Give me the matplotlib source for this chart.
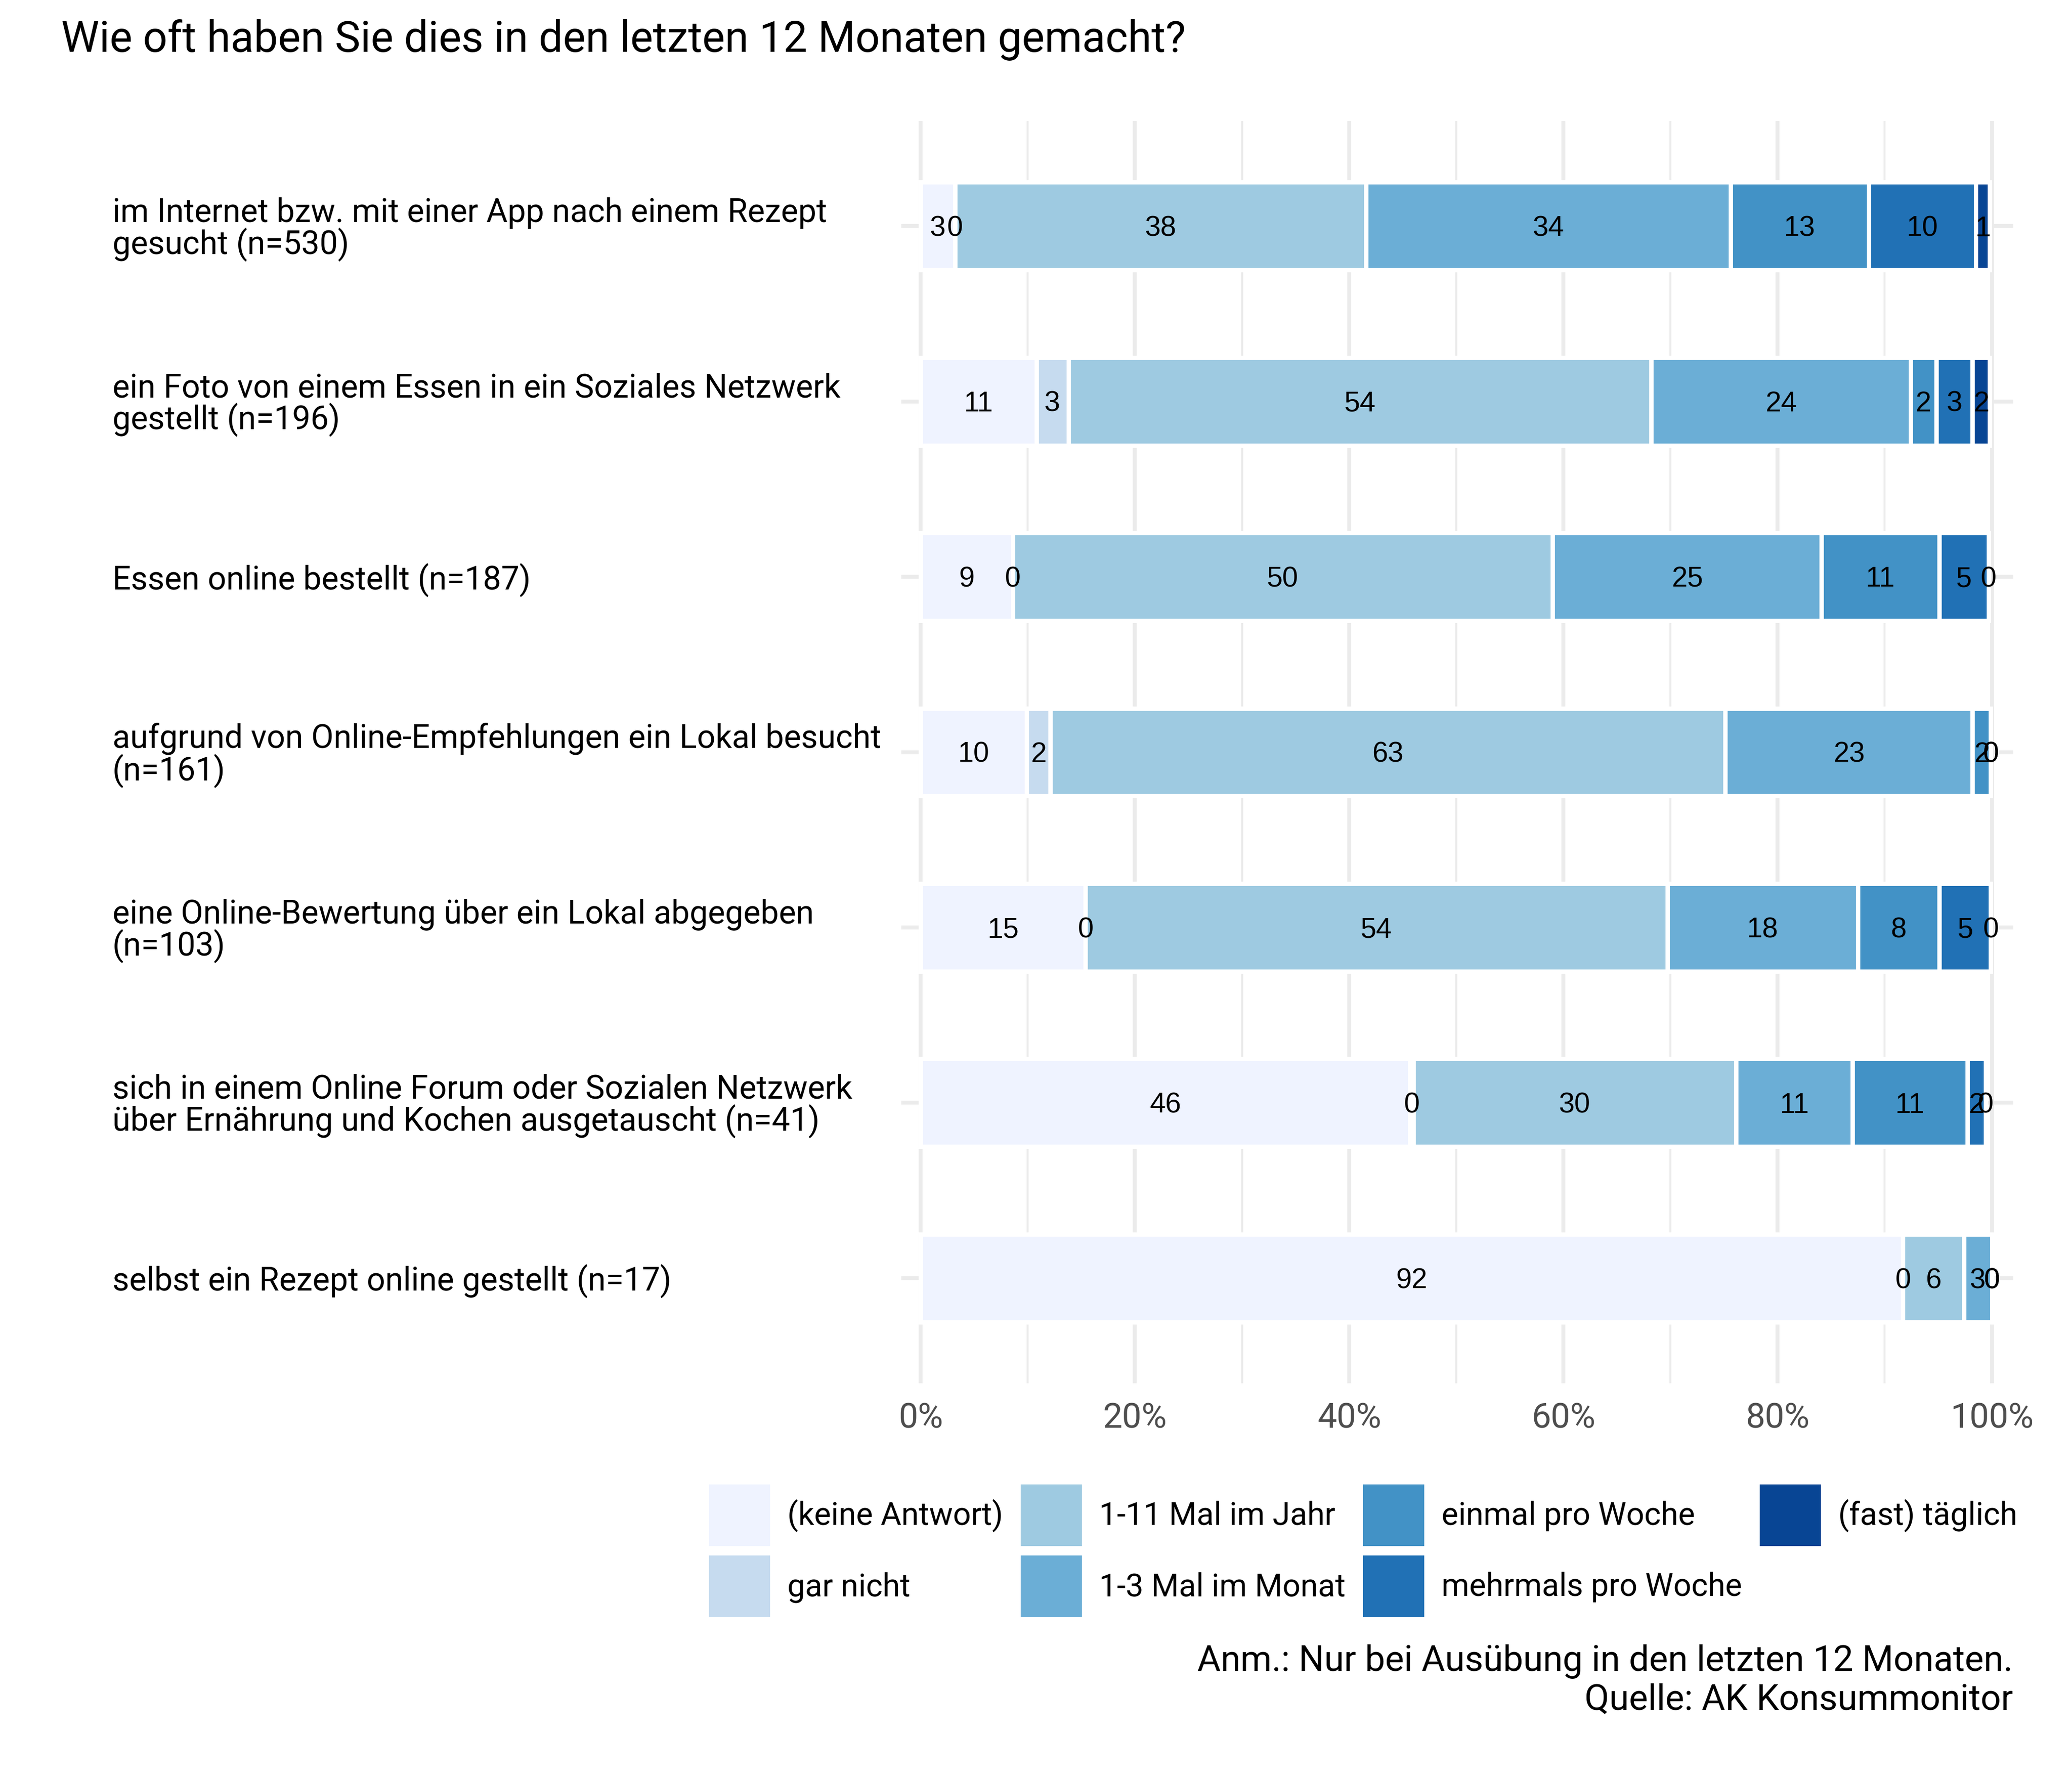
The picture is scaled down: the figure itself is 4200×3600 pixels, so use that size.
import matplotlib
matplotlib.use("Agg")
import matplotlib.pyplot as plt
from matplotlib.patches import Patch
from matplotlib.transforms import blended_transform_factory

# ---------------- data ----------------
items = [
    "im Internet bzw. mit einer App nach einem Rezept\ngesucht (n=530)",
    "ein Foto von einem Essen in ein Soziales Netzwerk\ngestellt (n=196)",
    "Essen online bestellt (n=187)",
    "aufgrund von Online-Empfehlungen ein Lokal besucht\n(n=161)",
    "eine Online-Bewertung über ein Lokal abgegeben\n(n=103)",
    "sich in einem Online Forum oder Sozialen Netzwerk\nüber Ernährung und Kochen ausgetauscht (n=41)",
    "selbst ein Rezept online gestellt (n=17)",
]
categories = ["(keine Antwort)", "gar nicht", "1-11 Mal im Jahr", "1-3 Mal im Monat",
              "einmal pro Woche", "mehrmals pro Woche", "(fast) täglich"]
keine_antwort = [3.2, 10.8, 8.6, 9.9, 15.4, 45.7, 91.7]
gar_nicht     = [0.0, 3.0, 0.0, 2.2, 0.0, 0.3, 0.0]
mal_jahr      = [38.4, 54.4, 50.4, 63.0, 54.3, 30.1, 5.7]
mal_monat     = [34.0, 24.2, 25.1, 23.1, 17.8, 10.9, 2.6]
einmal_woche  = [12.9, 2.4, 11.0, 1.7, 7.6, 10.7, 0.0]
mehrmals_woche= [10.0, 3.4, 4.6, 0.0, 4.8, 1.7, 0.0]
taeglich      = [1.3, 1.6, 0.0, 0.0, 0.0, 0.0, 0.0]
series = [keine_antwort, gar_nicht, mal_jahr, mal_monat, einmal_woche, mehrmals_woche, taeglich]
colors = ["#EFF3FF", "#C6DBEF", "#9ECAE1", "#6BAED6", "#4292C6", "#2171B5", "#084594"]
xticks = [0, 20, 40, 60, 80, 100]
xticklabels = ["0%", "20%", "40%", "60%", "80%", "100%"]

title = "Wie oft haben Sie dies in den letzten 12 Monaten gemacht?"
caption1 = "Anm.: Nur bei Ausübung in den letzten 12 Monaten."
caption2 = "Quelle: AK Konsummonitor"

# ---------------- figure ----------------
W, H = 4200, 3600
fig = plt.figure(figsize=(14, 12), dpi=300)
ax = fig.add_axes([1827 / W, 1 - 2804 / H, (4081 - 1827) / W, (2804 - 245) / H])

roboto = ["Roboto", "DejaVu Sans"]
ypos = list(range(len(items)))
grid_c = "#EBEBEB"
for x in range(0, 101, 20):
    ax.axvline(x, color=grid_c, lw=1.9, zorder=0)
for x in range(10, 100, 20):
    ax.axvline(x, color=grid_c, lw=0.95, zorder=0)
for y in ypos:
    ax.axhline(y, color=grid_c, lw=1.9, zorder=0)

lefts = [0.0] * len(items)
label_font = ["Liberation Sans", "DejaVu Sans"]
for vals, col, cat in zip(series, colors, categories):
    ax.barh(ypos, vals, left=lefts, height=0.5, color=col, edgecolor="white",
            linewidth=2.1, zorder=2, label=cat)
    for y, l, v in zip(ypos, lefts, vals):
        ax.text(l + v / 2, y + 0.057, f"{v:.0f}", ha="center", va="baseline",
                fontsize=13.8, family=label_font, color="black", zorder=3)
    lefts = [l + v for l, v in zip(lefts, vals)]

ax.set_xlim(-1.8, 102.0)
ax.set_ylim(len(items) - 1 + 0.6, -0.6)
ax.set_xticks(xticks)
ax.set_xticklabels(xticklabels, family=roboto, fontsize=16.8, color="#4D4D4D")
ax.tick_params(axis="x", length=0, pad=9)
ax.set_yticks([])
for s in ax.spines.values():
    s.set_visible(False)

trans = blended_transform_factory(fig.transFigure, ax.transData)
for y, lab in zip(ypos, items):
    ax.text(228 / W, y + 0.02, lab, transform=trans, ha="left", va="center",
            fontsize=15.8, family=roboto, color="black", linespacing=0.97)

fig.text(124 / W, 1 - 105 / H, title, ha="left", va="baseline", fontsize=20.85,
         family=roboto, color="black")

handles = [Patch(facecolor=c, edgecolor="none") for c in colors]
fig.legend(handles, categories, ncol=4, loc="upper left",
           bbox_to_anchor=(1437 / W, 1 - 3009 / H), frameon=False,
           prop={"family": roboto, "size": 15.4},
           handlelength=1.93, handleheight=2.62, handletextpad=0.545,
           columnspacing=0.56, labelspacing=0.30, borderpad=0, borderaxespad=0)

fig.text(4080 / W, 1 - 3387 / H, caption1, ha="right", va="baseline", fontsize=17.4,
         family=roboto, color="black")
fig.text(4080 / W, 1 - 3465 / H, caption2, ha="right", va="baseline", fontsize=17.4,
         family=roboto, color="black")

fig.savefig("out.png", dpi=300, facecolor="white")
